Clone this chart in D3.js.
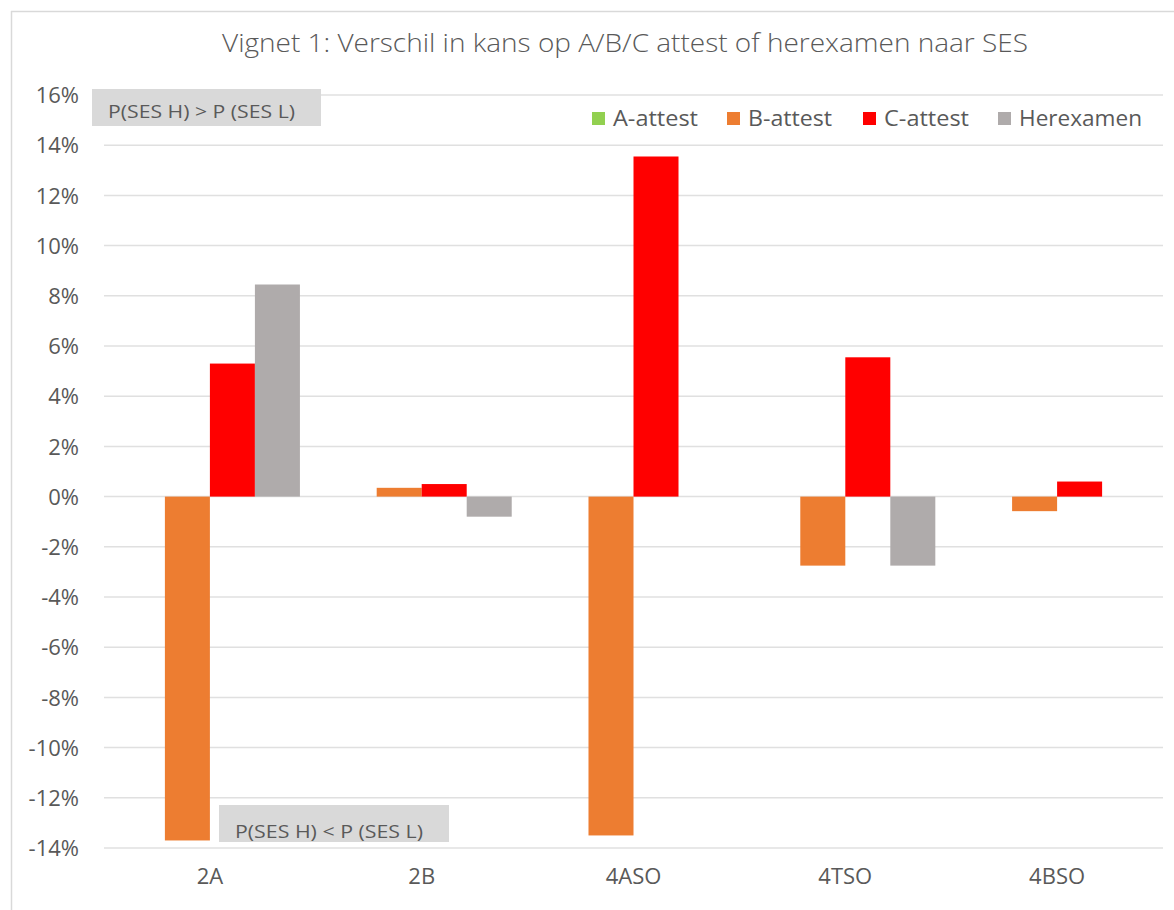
<!DOCTYPE html>
<html>
<head>
<meta charset="utf-8">
<script src="https://cdn.jsdelivr.net/npm/d3@7"></script>
<style>
  html, body { margin: 0; padding: 0; background: #fff; }
  svg { display: block; font-family: "Open Sans", "Noto Sans", sans-serif; }
</style>
</head>
<body>
<svg id="chart" width="1174" height="910"></svg>
<script>
// ---- data ----
const categories = ["2A", "2B", "4ASO", "4TSO", "4BSO"];
const seriesNames = ["A-attest", "B-attest", "C-attest", "Herexamen"];
const aAttest   = [0, 0, 0, 0, 0];
const bAttest   = [-13.7, 0.35, -13.5, -2.75, -0.58];
const cAttest   = [5.3, 0.5, 13.55, 5.55, 0.6];
const herexamen = [8.45, -0.8, 0, -2.75, 0];
const yTicks = [16, 14, 12, 10, 8, 6, 4, 2, 0, -2, -4, -6, -8, -10, -12, -14];
const colors = ["#92d050", "#ed7d31", "#ff0000", "#afabab"];
const title = "Vignet 1: Verschil in kans op A/B/C attest of herexamen naar SES";
const noteTop = "P(SES H) > P (SES L)";
const noteBottom = "P(SES H) < P (SES L)";

const seriesValues = [aAttest, bAttest, cAttest, herexamen];

const svg = d3.select("#chart");
const textColor = "#595959";
const gridColor = "#e0e0e0";

// frame
svg.append("line").attr("x1", 11).attr("x2", 1174).attr("y1", 11.5).attr("y2", 11.5)
  .attr("stroke", "#d9d9d9").attr("stroke-width", 1.5);
svg.append("line").attr("x1", 11.5).attr("x2", 11.5).attr("y1", 11).attr("y2", 910)
  .attr("stroke", "#d9d9d9").attr("stroke-width", 1.5);

// scales
const x = d3.scaleBand().domain(categories).range([104, 1163])
  .paddingInner(0.15).paddingOuter(0.075);
const xs = d3.scaleBand().domain(seriesNames).range([0, x.bandwidth()]).padding(0);
const y = d3.scaleLinear().domain([-14, 16]).range([848, 95]);

// gridlines
svg.append("g").selectAll("line").data(yTicks).join("line")
  .attr("x1", 104).attr("x2", 1163)
  .attr("y1", d => y(d)).attr("y2", d => y(d))
  .attr("stroke", gridColor).attr("stroke-width", 1.5);

// y axis labels
const yAxis = d3.axisLeft(y).tickValues(yTicks).tickFormat(d => d + "%").tickSize(0).tickPadding(0);
const yg = svg.append("g").attr("transform", "translate(79,0)").call(yAxis);
yg.select(".domain").remove();
yg.selectAll("text").attr("fill", textColor).style("font-size", "22px")
  .style("font-family", "'Open Sans', sans-serif").attr("dy", "0.35em");

// x axis labels
const xAxis = d3.axisBottom(x).tickSize(0).tickPadding(0);
const xg = svg.append("g").attr("transform", "translate(0,868)").call(xAxis);
xg.select(".domain").remove();
xg.selectAll("text").attr("fill", textColor).style("font-size", "22px")
  .style("font-family", "'Open Sans', sans-serif").attr("dy", "0.71em");

// bars
const groups = svg.append("g").selectAll("g").data(categories).join("g")
  .attr("transform", d => `translate(${x(d)},0)`);
groups.selectAll("rect")
  .data((c, i) => seriesNames.map((s, j) => ({ s, j, v: seriesValues[j][i] })))
  .join("rect")
  .attr("x", d => xs(d.s))
  .attr("width", xs.bandwidth())
  .attr("y", d => y(Math.max(0, d.v)))
  .attr("height", d => Math.abs(y(d.v) - y(0)))
  .attr("fill", d => colors[d.j]);

// annotations
function note(bx, by, bw, bh, tx, ty, tw, txt) {
  svg.append("rect").attr("x", bx).attr("y", by).attr("width", bw).attr("height", bh)
    .attr("fill", "#d9d9d9");
  svg.append("text").attr("x", tx).attr("y", ty).text(txt)
    .attr("fill", textColor).style("font-size", "18px")
    .attr("textLength", tw).attr("lengthAdjust", "spacingAndGlyphs");
}
note(92, 89, 229, 37, 108, 118, 187, noteTop);
note(219, 805, 230, 37, 235, 838, 188, noteBottom);

// legend
const legendX = [592, 727, 863, 998];
const legendW = [85, 84, 85, 123];
const lg = svg.append("g").selectAll("g").data(seriesNames).join("g");
lg.append("rect").attr("x", (d, i) => legendX[i]).attr("y", 112).attr("width", 13).attr("height", 13)
  .attr("fill", (d, i) => colors[i]);
lg.append("text").attr("x", (d, i) => legendX[i] + 21).attr("y", 126).text(d => d)
  .attr("fill", textColor).style("font-size", "22px")
  .attr("textLength", (d, i) => legendW[i]).attr("lengthAdjust", "spacingAndGlyphs");

// title
svg.append("text").attr("x", 222).attr("y", 52).text(title)
  .attr("fill", textColor).style("font-size", "25px").style("font-weight", 300)
  .attr("textLength", 806).attr("lengthAdjust", "spacingAndGlyphs");
</script>
</body>
</html>
